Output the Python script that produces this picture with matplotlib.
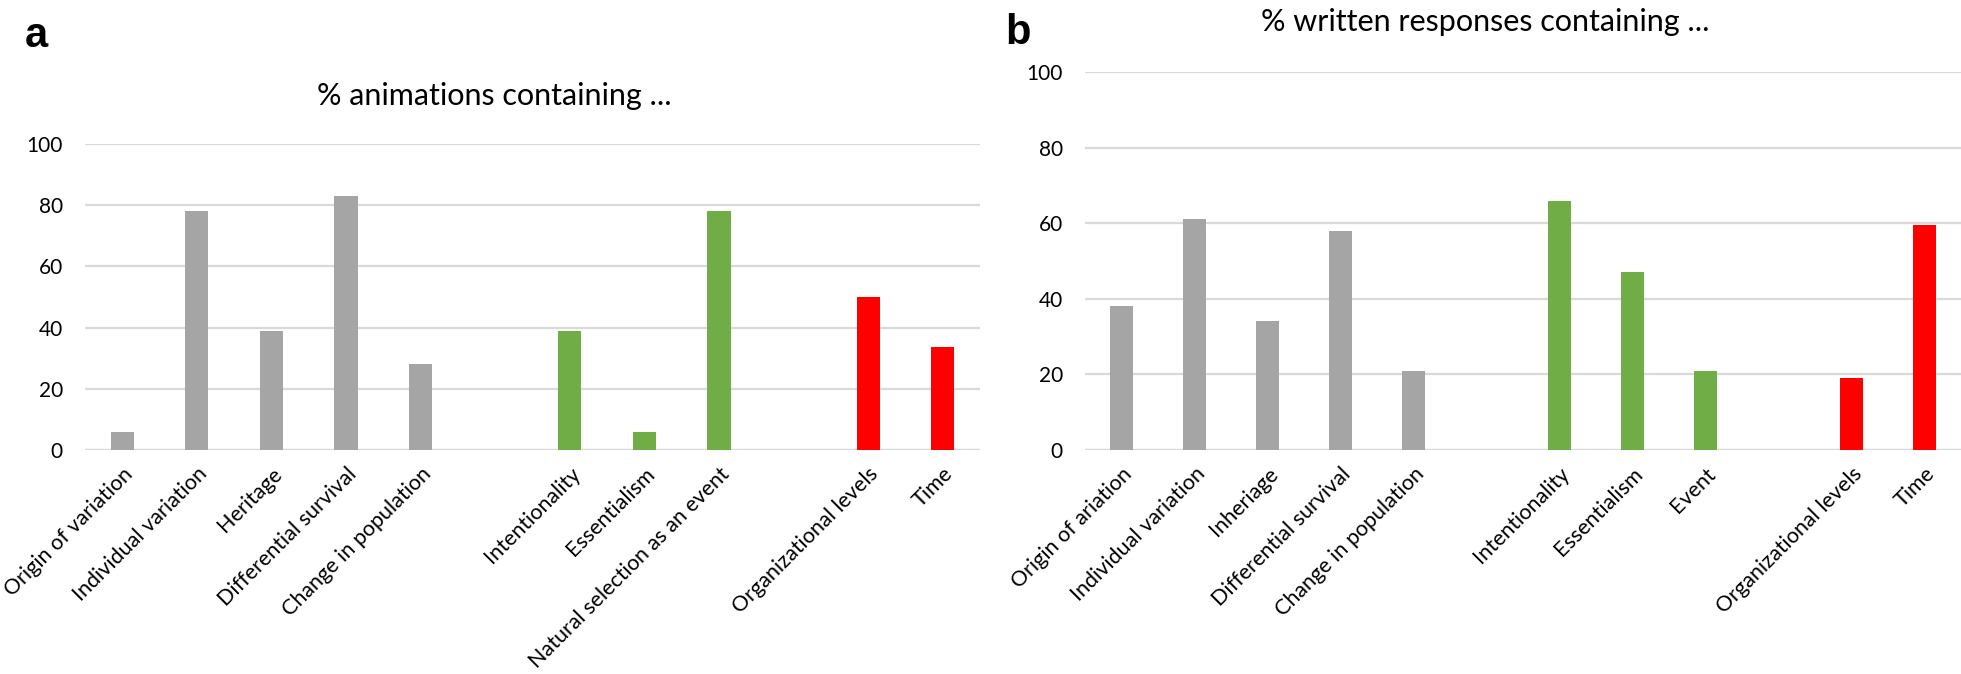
# two bar panels: % animations / % written responses per concept
import matplotlib
matplotlib.use("Agg")
import matplotlib.pyplot as plt
import numpy as np

plt.rcParams['font.family'] = ['Lato', 'DejaVu Sans']

# colours per concept group
GREY = "#A5A5A5"
GREEN = "#70AD47"
RED = "#FF0000"

# panel a: animations
key_labels_a = ["Origin of variation", "Individual variation", "Heritage",
                "Differential survival", "Change in population"]
key_vals_a = [6, 78, 39, 83, 28]
mis_labels_a = ["Intentionality", "Essentialism", "Natural selection as an event"]
mis_vals_a = [39, 6, 78]
add_labels_a = ["Organizational levels", "Time"]
add_vals_a = [50, 33.5]

# panel b: written responses
key_labels_b = ["Origin of ariation", "Individual variation", "Inheriage",
                "Differential survival", "Change in population"]
key_vals_b = [38, 61, 34, 58, 21]
mis_labels_b = ["Intentionality", "Essentialism", "Event"]
mis_vals_b = [66, 47, 21]
add_labels_b = ["Organizational levels", "Time"]
add_vals_b = [19.1, 59.6]

W, H = 1961, 674


def draw(ax, groups):
    pos = 0
    ticks, labs = [], []
    for labels, vals, color in groups:
        x = np.arange(len(labels)) + pos
        ax.bar(x, vals, width=0.31, color=color, zorder=3)
        ticks += list(x)
        labs += labels
        pos += len(labels) + 1  # one empty slot between groups
    ax.set_xlim(-0.5, pos - 1.5)
    ax.set_ylim(0, 100)
    ax.set_yticks(range(0, 101, 20))
    ax.set_xticks(ticks)
    ax.set_xticklabels(labs, rotation=45, ha='right', rotation_mode='anchor',
                       fontsize=15.5)
    ax.tick_params(axis='x', length=0, pad=10)
    ax.tick_params(axis='y', length=0, pad=16, labelsize=15)
    ax.yaxis.grid(True, color="#D9D9D9", lw=1.6)
    ax.set_axisbelow(True)
    for s in ax.spines.values():
        s.set_visible(False)
    ax.axhline(0, color="#D9D9D9", lw=1.6, zorder=2)


fig = plt.figure(figsize=(W / 100, H / 100), dpi=100)

# axes boxes in pixels: left, right, top (y of 100), bottom (y of 0)
axa = fig.add_axes([85 / W, 1 - 450 / H, (980 - 85) / W, (450 - 144) / H])
axb = fig.add_axes([1085 / W, 1 - 450 / H, (1961 - 1085) / W, (450 - 72) / H])

draw(axa, [(key_labels_a, key_vals_a, GREY),
           (mis_labels_a, mis_vals_a, GREEN),
           (add_labels_a, add_vals_a, RED)])
draw(axb, [(key_labels_b, key_vals_b, GREY),
           (mis_labels_b, mis_vals_b, GREEN),
           (add_labels_b, add_vals_b, RED)])

fig.text(494 / W, 1 - 96 / H, "% animations containing ...", fontsize=22,
         ha='center', va='center')
fig.text(1485 / W, 1 - 22 / H, "% written responses containing ...", fontsize=22,
         ha='center', va='center')

fig.text(25 / W, 1 - 36 / H, "a", fontsize=30, fontweight='bold',
         family='Liberation Sans', ha='left', va='center')
fig.text(1005 / W, 1 - 33 / H, "b", fontsize=30, fontweight='bold',
         family='Liberation Sans', ha='left', va='center')

fig.savefig("out.png", dpi=100)
